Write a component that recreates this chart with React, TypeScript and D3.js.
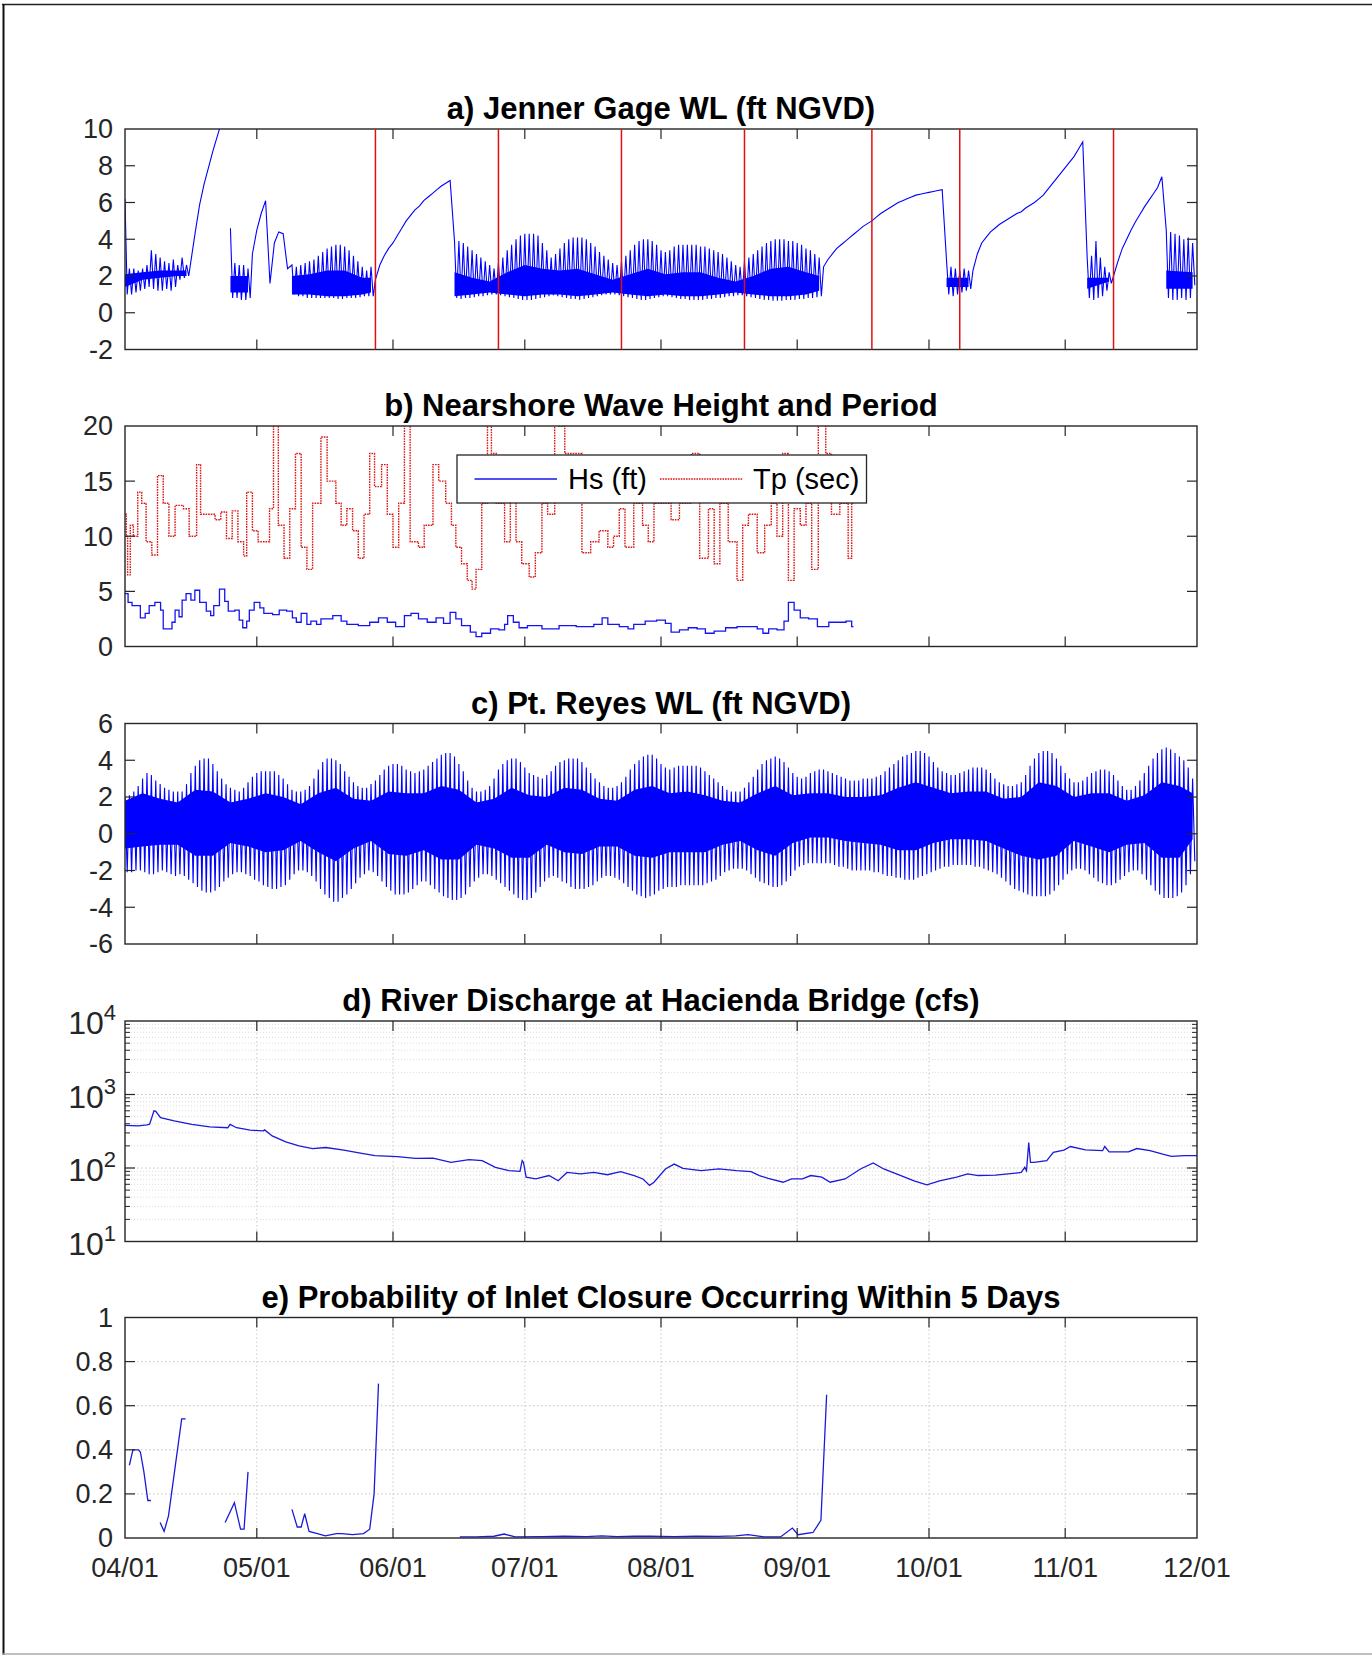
import React, { useEffect, useRef } from "react";
import * as d3 from "d3";

const N = null;

// ---------- time axis ----------
const startMs = Date.UTC(2016, 3, 1);
const endMs = Date.UTC(2016, 11, 1);
const DAY = 86400000;

// ---------- a) Jenner gage water level, daily high / low (ft NGVD), index = day since 04/01 ----------
const jennerHigh: (number | null)[] = [
  // d0-14
  6.2, 2.4, 2.4, 2.3, 2.4, 2.6, 3.4, 3.2, 3.0, 2.8, 2.7, 2.9, 2.6, 3.0, 2.6,
  // d15-23
  2.8, 4.4, 5.9, 7.0, 7.9, 8.8, 9.6, 10.4, N,
  // d24-37
  4.6, 2.7, 2.6, 2.6, 2.4, 3.2, 4.5, 5.4, 6.1, 1.6, 3.8, 4.4, 4.3, 2.4,
  // d38-56
  2.6, 2.5, 2.6, 2.7, 2.8, 2.9, 3.1, 3.3, 3.5, 3.6, 3.7, 3.7, 3.6, 3.4, 3.1, 2.8, 2.5, 2.3, 2.5,
  // d57-74
  1.8, 2.6, 3.1, 3.5, 3.8, 4.2, 4.6, 5.0, 5.3, 5.6, 5.8, 6.1, 6.3, 6.5, 6.7, 6.9, 7.05, 7.2,
  // d75-158
  3.9, 3.9, 3.8, 3.6, 3.4, 3.2, 3.0, 2.8, 2.6, 2.4,
  2.7, 3.0, 3.4, 3.7, 4.0, 4.2, 4.3, 4.3, 4.3, 4.2,
  3.8, 3.4, 3.0, 3.2, 3.5, 3.8, 4.0, 4.1, 4.1, 4.1,
  4.0, 3.8, 3.6, 3.3, 3.1, 2.9, 2.7, 2.6, 2.8, 3.1,
  3.4, 3.7, 3.9, 4.0, 4.0, 3.9, 3.7, 3.4, 3.3, 3.4,
  3.6, 3.7, 3.7, 3.7, 3.7, 3.7, 3.6, 3.6, 3.5, 3.4,
  3.3, 3.2, 3.0, 2.8, 2.6, 2.5, 2.8, 3.0, 3.2, 3.4,
  3.6, 3.8, 3.9, 4.0, 4.0, 4.0, 3.9, 3.9, 3.8, 3.7,
  3.5, 3.4, 3.2, 3.0,
  // d159-186
  2.5, 2.9, 3.2, 3.5, 3.7, 3.9, 4.1, 4.3, 4.5, 4.7,
  4.85, 5.0, 5.2, 5.4, 5.55, 5.7, 5.85, 6.0, 6.1, 6.2,
  6.3, 6.4, 6.45, 6.5, 6.55, 6.6, 6.65, 6.7,
  // d187-192
  2.8, 2.5, 2.4, 2.3, 2.4, 2.3,
  // d193-218
  2.3, 3.2, 3.8, 4.1, 4.4, 4.6, 4.8, 4.95, 5.1, 5.25,
  5.4, 5.5, 5.7, 5.85, 6.0, 6.2, 6.4, 6.7, 7.0, 7.3,
  7.6, 7.9, 8.2, 8.5, 8.9, 9.3,
  // d219-224
  3.0, 3.1, 3.9, 3.0, 2.5, 2.2,
  // d225-236
  2.0, 2.8, 3.5, 4.0, 4.5, 4.95, 5.35, 5.75, 6.1, 6.45, 6.8, 7.4,
  // d237-243
  4.5, 4.4, 4.3, 4.2, 4.0, 4.1, 3.8,
];

const jennerLow: (number | null)[] = [
  // d0-14
  1.0, 1.0, 1.1, 1.2, 1.3, 1.4, 1.3, 1.2, 1.2, 1.3, 1.2, 1.4, 1.8, 1.9, 2.0,
  // d15-23
  N, N, N, N, N, N, N, N, N,
  // d24-37
  0.8, 0.8, 0.7, 0.7, 0.8, N, N, N, N, N, N, N, N, N,
  // d38-56
  1.0, 0.9, 0.9, 0.8, 0.8, 0.8, 0.8, 0.8, 0.8, 0.8, 0.75, 0.75, 0.8, 0.8, 0.8, 0.85, 0.9, 0.9, 0.9,
  // d57-74
  N, N, N, N, N, N, N, N, N, N, N, N, N, N, N, N, N, N,
  // d75-158
  0.8, 0.75, 0.8, 0.8, 0.85, 0.9, 0.9, 0.95, 1.0, 1.0,
  0.95, 0.9, 0.85, 0.8, 0.75, 0.7, 0.7, 0.7, 0.75, 0.8,
  0.85, 0.9, 0.95, 0.9, 0.85, 0.8, 0.75, 0.75, 0.7, 0.75,
  0.8, 0.85, 0.9, 0.95, 1.0, 1.0, 1.0, 0.95, 0.9, 0.85,
  0.8, 0.75, 0.7, 0.7, 0.75, 0.8, 0.85, 0.9, 0.9, 0.85,
  0.8, 0.75, 0.75, 0.7, 0.7, 0.7, 0.7, 0.75, 0.75, 0.8,
  0.8, 0.85, 0.9, 0.9, 0.95, 0.95, 0.9, 0.85, 0.8, 0.75,
  0.7, 0.7, 0.65, 0.65, 0.65, 0.7, 0.7, 0.7, 0.75, 0.75,
  0.8, 0.8, 0.85, 0.9,
  // d159-186
  N, N, N, N, N, N, N, N, N, N,
  N, N, N, N, N, N, N, N, N, N,
  N, N, N, N, N, N, N, N,
  // d187-192
  1.0, 0.9, 1.0, 1.1, 1.2, 1.3,
  // d193-218
  N, N, N, N, N, N, N, N, N, N,
  N, N, N, N, N, N, N, N, N, N,
  N, N, N, N, N, N,
  // d219-224
  0.8, 0.7, 0.8, 0.9, 1.2, 1.6,
  // d225-236
  N, N, N, N, N, N, N, N, N, N, N, N,
  // d237-243
  0.8, 0.7, 0.7, 0.8, 0.7, 0.8, 1.5,
];

// dense tidal core of the Jenner record
const jennerCoreDay: (number | null)[] = [0, 4, 8, 12, 14, N, 24, 28, N, 38, 42, 46, 50, 54, 56, N,
  75, 79, 83, 87, 91, 95, 99, 103, 107, 111, 115, 119, 123, 127, 131, 135, 139, 143, 147, 151, 155, 158, N,
  187, 192, N, 219, 224, N, 237, 243];
const jennerCoreTop: (number | null)[] = [2.1, 2.2, 2.3, 2.3, 2.3, N, 2.0, 2.0, N, 2.0, 2.1, 2.3, 2.3, 1.9, 1.9, N,
  2.2, 1.9, 1.7, 2.2, 2.6, 2.4, 2.3, 2.4, 2.1, 1.8, 2.1, 2.4, 2.1, 2.2, 2.2, 1.9, 1.7, 2.0, 2.4, 2.5, 2.2, 2.0, N,
  1.9, 1.9, N, 1.9, 1.9, N, 2.3, 2.2];
const jennerCoreBottom: (number | null)[] = [1.4, 1.8, 1.9, 2.0, 2.0, N, 1.1, 1.1, N, 1.0, 1.0, 0.9, 0.9, 1.0, 1.1, N,
  0.9, 1.0, 1.1, 1.0, 0.9, 1.0, 1.0, 0.9, 1.0, 1.1, 1.0, 0.9, 1.0, 0.9, 0.9, 1.0, 1.1, 1.0, 0.9, 0.9, 1.0, 1.2, N,
  1.4, 1.4, N, 1.3, 1.7, N, 1.3, 1.3];

const closureLineDays = [57, 85, 113, 141, 170, 190, 225];

// ---------- b) nearshore waves: [day, value] step series ----------
const hsSteps: [number, number][] = [
  [0, 4.8], [0.7, 4.0], [1.6, 3.7], [3.5, 2.6], [4.6, 3.0], [5.5, 3.7], [6.8, 4.0], [8.1, 3.3], [8.7, 1.6], [10.7, 2.2],
  [11.4, 3.3], [12.3, 2.7], [13, 4.2], [13.9, 4.8], [15, 4.2], [15.9, 5.1], [17, 4.0], [18.5, 3.2], [19.5, 2.8], [20.2, 3.7],
  [21.5, 5.2], [22.7, 4.1], [23.5, 3.2], [25, 3.3], [26, 2.4], [26.8, 1.7], [27.7, 2.3], [28.3, 3.3], [29.4, 4.0], [30.7, 3.5],
  [31.6, 3.0], [33.6, 2.9], [35.1, 3.3], [36.8, 3.2], [38.1, 2.6], [39, 2.2], [40.1, 3.0], [41.4, 2.0], [42.3, 2.3], [43.6, 2.0],
  [44.6, 2.5], [47.3, 2.8], [49.2, 2.3], [50.5, 2.0], [53.1, 1.9], [55.7, 2.2], [57.7, 2.6], [59.7, 2.2], [61.6, 1.8], [63.6, 2.8],
  [65.1, 3.0], [66.8, 2.5], [68.8, 2.2], [70.8, 2.6], [72.5, 2.1], [74, 3.1], [75.3, 2.5], [76.6, 1.9], [78.6, 1.3], [79.9, 0.9],
  [81.2, 1.2], [83.2, 1.6], [85.1, 1.5], [86.4, 2.0], [87.1, 2.8], [88.4, 2.2], [89.7, 1.7], [91.6, 1.9], [94.9, 1.6], [98.8, 1.9],
  [102.7, 1.8], [106.7, 2.0], [108.6, 2.6], [109.9, 2.0], [112.5, 1.8], [114.5, 1.6], [115.8, 2.0], [118.4, 2.3], [121, 2.4], [123, 2.1],
  [124.3, 1.3], [126.2, 1.5], [128.2, 1.7], [130.2, 1.6], [132.1, 1.2], [134.1, 1.4], [136.7, 1.7], [139.3, 1.8], [141.9, 1.8], [143.9, 1.6],
  [145.2, 1.2], [146.5, 1.6], [148.4, 1.5], [150, 2.3], [151, 4.0], [152.3, 3.3], [153.7, 2.6], [155.6, 2.5], [157.6, 1.8], [160.2, 2.2],
  [164.1, 2.3], [165.4, 1.8], [165.8, 1.8],
];

const tpSteps: [number, number][] = [
  [0, 12], [0.3, 10], [0.6, 6.5], [1.2, 11], [1.9, 10], [2.9, 14], [3.8, 13], [4.8, 9.5], [6.1, 8.3], [7.4, 15.5],
  [8.7, 13], [10, 10], [11.4, 12.8], [13.3, 12.5], [14.6, 10], [16.3, 16.5], [17.2, 12], [20.5, 11.5], [21.8, 12.2], [23.1, 9.8],
  [24.4, 12.3], [25.7, 9.5], [27, 8.2], [27.7, 14], [29, 10.5], [30.3, 9.5], [32.9, 12.5], [33.8, 21], [34.9, 11], [36.2, 8],
  [37.5, 12.5], [38.8, 17.5], [40.1, 9], [41.4, 7], [42.7, 13], [44.6, 19], [46, 15], [48, 13], [49.2, 11], [50.5, 12.5],
  [51.8, 10.5], [53.1, 8], [54.4, 12], [55.7, 17.5], [56.8, 14.5], [58.4, 16.5], [59.7, 12], [61, 9], [62.3, 13], [63.6, 21],
  [64.9, 9.5], [66.8, 9], [68.1, 11], [70.1, 16.5], [71.4, 15], [73, 13], [74.3, 11], [75.3, 9], [76.6, 7.5], [77.9, 6],
  [79, 5.2], [79.9, 7], [81.2, 13], [82.5, 21], [83.4, 17.5], [84.5, 13], [86.4, 9.5], [87.7, 14], [89, 9.5], [90.3, 7.5],
  [92, 6.3], [93.4, 8.5], [94.9, 13], [96.2, 12], [97.8, 21], [98.8, 20], [100.1, 17.5], [104, 8.5], [106, 9.5], [107.9, 10.5],
  [109.9, 9], [111.2, 10], [112.5, 12.5], [113.8, 9], [115.8, 13], [117.8, 11], [119.1, 9.5], [120.4, 13], [124.3, 11.5], [126.2, 13],
  [128.9, 17.5], [130.8, 8], [132.8, 12.5], [134.1, 7.5], [135.4, 13], [137.3, 9.5], [139.3, 6], [140.6, 11], [141.9, 12], [143.9, 8.5],
  [145.6, 11], [147.1, 13], [148.4, 10], [149.7, 17.5], [151, 6], [152.3, 12.5], [153.7, 11], [155, 13], [156.3, 7], [157.8, 21],
  [159.5, 17.5], [160.8, 12], [162.7, 13], [164.6, 8], [165.4, 13], [165.8, 13],
];

// ---------- c) Pt. Reyes water level, daily higher-high / lower-low (ft NGVD) ----------
const reyesHigh: number[] = [
  2.0, 2.1, 2.3, 2.6, 3.0, 3.3, 3.2, 2.9, 2.7, 2.5,
  2.4, 2.3, 2.3, 2.3, 2.7, 3.3, 3.7, 4.0, 4.1, 4.1,
  3.8, 3.4, 3.0, 2.7, 2.5, 2.4, 2.3, 2.5, 2.8, 3.1,
  3.3, 3.4, 3.4, 3.4, 3.4, 3.2, 3.0, 2.7, 2.4, 2.3,
  2.3, 2.4, 2.6, 3.0, 3.5, 3.9, 4.1, 4.1, 4.0, 3.8,
  3.4, 3.1, 2.8, 2.6, 2.5, 2.5, 2.7, 2.9, 3.2, 3.5,
  3.7, 3.8, 3.8, 3.7, 3.5, 3.4, 3.3, 3.4, 3.5, 3.7,
  3.9, 4.1, 4.3, 4.4, 4.4, 4.2, 3.8, 3.4, 2.9, 2.5,
  2.3, 2.3, 2.4, 2.6, 3.0, 3.5, 3.8, 4.0, 4.1, 4.1,
  3.9, 3.6, 3.3, 3.2, 3.1, 3.0, 3.2, 3.4, 3.7, 3.9,
  4.0, 4.1, 4.1, 4.1, 3.9, 3.6, 3.3, 3.0, 2.8, 2.6,
  2.5, 2.5, 2.6, 2.8, 3.1, 3.5, 3.8, 4.0, 4.2, 4.3,
  4.3, 4.1, 3.8, 3.6, 3.5, 3.6, 3.7, 3.7, 3.7, 3.7,
  3.7, 3.6, 3.4, 3.2, 3.0, 2.8, 2.6, 2.4, 2.3, 2.3,
  2.3, 2.5, 2.8, 3.1, 3.5, 3.8, 4.0, 4.1, 4.2, 4.1,
  3.9, 3.6, 3.3, 3.1, 3.0, 3.1, 3.3, 3.4, 3.5, 3.5,
  3.4, 3.3, 3.2, 3.1, 3.0, 2.9, 2.9, 2.9, 3.0, 3.0,
  3.0, 3.1, 3.2, 3.4, 3.6, 3.8, 4.0, 4.2, 4.3, 4.4,
  4.5, 4.5, 4.4, 4.2, 3.9, 3.6, 3.4, 3.3, 3.2, 3.2,
  3.3, 3.4, 3.5, 3.6, 3.6, 3.6, 3.5, 3.3, 3.0, 2.8,
  2.7, 2.6, 2.6, 2.7, 2.8, 3.2, 3.7, 4.1, 4.4, 4.5,
  4.5, 4.4, 4.1, 3.7, 3.3, 3.0, 2.8, 2.8, 2.9, 3.1,
  3.3, 3.4, 3.5, 3.5, 3.4, 3.2, 2.9, 2.6, 2.4, 2.4,
  2.6, 2.9, 3.3, 3.7, 4.1, 4.4, 4.6, 4.7, 4.6, 4.4,
  4.2, 4.0, 3.6, 3.0,
];

const reyesLow: number[] = [
  -2.1, -2.1, -2.0, -2.0, -2.1, -2.2, -2.2, -2.1, -2.0, -2.1,
  -2.2, -2.3, -2.2, -2.3, -2.5, -2.7, -2.9, -3.1, -3.2, -3.2,
  -3.1, -2.9, -2.6, -2.4, -2.2, -2.1, -2.1, -2.2, -2.3, -2.5,
  -2.6, -2.8, -2.9, -3.0, -3.0, -2.9, -2.8, -2.5, -2.2, -2.0,
  -2.0, -2.1, -2.3, -2.6, -3.0, -3.3, -3.5, -3.7, -3.7, -3.5,
  -3.3, -3.0, -2.7, -2.4, -2.2, -2.0, -2.1, -2.3, -2.6, -2.9,
  -3.1, -3.3, -3.3, -3.3, -3.2, -3.0, -2.8, -2.6, -2.6, -2.8,
  -3.0, -3.2, -3.4, -3.5, -3.6, -3.6, -3.5, -3.3, -2.9, -2.6,
  -2.4, -2.2, -2.2, -2.3, -2.5, -2.7, -2.9, -3.1, -3.3, -3.5,
  -3.6, -3.6, -3.5, -3.2, -2.9, -2.6, -2.4, -2.3, -2.4, -2.6,
  -2.7, -2.9, -3.0, -3.0, -3.0, -2.9, -2.8, -2.6, -2.4, -2.3,
  -2.3, -2.4, -2.5, -2.7, -2.9, -3.1, -3.3, -3.4, -3.5, -3.4,
  -3.3, -3.1, -3.0, -2.9, -2.9, -2.9, -2.8, -2.8, -2.8, -2.8,
  -2.8, -2.8, -2.7, -2.6, -2.5, -2.3, -2.1, -2.0, -1.9, -1.9,
  -1.9, -2.0, -2.2, -2.4, -2.6, -2.7, -2.8, -2.9, -2.9, -2.8,
  -2.6, -2.3, -2.0, -1.8, -1.7, -1.6, -1.6, -1.6, -1.6, -1.6,
  -1.6, -1.7, -1.8, -1.8, -1.9, -2.0, -2.0, -2.0, -2.0, -2.0,
  -2.1, -2.1, -2.2, -2.3, -2.3, -2.4, -2.4, -2.5, -2.5, -2.5,
  -2.4, -2.3, -2.2, -2.1, -2.0, -1.9, -1.8, -1.8, -1.7, -1.7,
  -1.7, -1.7, -1.7, -1.8, -1.8, -1.9, -2.0, -2.1, -2.2, -2.4,
  -2.6, -2.8, -3.0, -3.1, -3.2, -3.3, -3.4, -3.4, -3.4, -3.4,
  -3.3, -3.1, -2.8, -2.5, -2.2, -2.0, -1.9, -1.9, -2.0, -2.2,
  -2.4, -2.6, -2.7, -2.8, -2.8, -2.7, -2.5, -2.3, -2.1, -2.0,
  -2.0, -2.2, -2.5, -2.8, -3.1, -3.3, -3.5, -3.5, -3.5, -3.4,
  -3.2, -2.8, -2.2, -1.5,
];

const reyesCoreDay: number[] = [0, 4, 8, 12, 16, 20, 24, 28, 32, 36, 40, 44, 48, 52, 56, 60, 64, 68, 72, 76,
  80, 84, 88, 92, 96, 100, 104, 108, 112, 116, 120, 124, 128, 132, 136, 140, 144, 148, 152, 156,
  160, 164, 168, 172, 176, 180, 184, 188, 192, 196, 200, 204, 208, 212, 216, 220, 224, 228, 232, 236, 240, 243];
const reyesCoreTop: number[] = [1.8, 2.2, 1.9, 1.7, 2.4, 2.3, 1.7, 1.9, 2.2, 2.0, 1.6, 2.2, 2.5, 1.9, 1.8, 2.3, 2.2, 2.2, 2.6, 2.4,
  1.7, 1.9, 2.5, 2.1, 2.0, 2.5, 2.4, 1.9, 1.8, 2.4, 2.6, 2.2, 2.3, 2.1, 1.8, 1.7, 2.2, 2.6, 2.1, 2.2,
  2.2, 2.0, 2.0, 2.1, 2.5, 2.8, 2.5, 2.2, 2.3, 2.3, 1.9, 2.0, 2.8, 2.6, 2.0, 2.2, 2.2, 1.8, 2.1, 2.8, 2.6, 2.2];
const reyesCoreBottom: number[] = [-0.8, -0.7, -0.6, -0.6, -1.2, -1.2, -0.5, -0.7, -1.0, -0.9, -0.4, -1.0, -1.5, -0.8, -0.4, -1.1, -1.2, -0.9, -1.4, -1.4,
  -0.6, -0.8, -1.3, -1.3, -0.6, -1.0, -1.1, -0.7, -0.7, -1.2, -1.3, -1.0, -1.0, -1.0, -0.6, -0.4, -0.9, -1.2, -0.5, -0.2,
  -0.2, -0.4, -0.5, -0.6, -0.9, -0.9, -0.5, -0.3, -0.3, -0.4, -0.8, -1.2, -1.4, -1.2, -0.4, -0.7, -1.0, -0.6, -0.5, -1.3, -1.3, -0.3];

// ---------- d) river discharge [day, cfs] ----------
const discharge: [number, number][] = [
  [0, 380], [3, 375], [5, 385], [5.6, 395], [6.6, 600], [7, 590], [8.1, 483], [11.2, 437], [15.2, 393], [19.3, 362],
  [23.4, 353], [23.9, 393], [25.4, 353], [28.5, 327], [31.5, 320], [31.8, 330], [33.5, 273], [36.6, 227], [39.6, 200], [42.7, 184],
  [45.7, 190], [49.8, 175], [53.9, 158], [56.9, 147], [62, 143], [66.1, 135], [70.1, 136], [74.2, 119], [78.3, 130], [81.3, 126],
  [84.3, 102], [87.4, 92], [89.9, 90], [90.4, 126], [90.7, 119], [91.3, 75], [93.5, 71], [96.5, 79], [98.6, 67], [100.6, 87],
  [103.7, 83], [106.7, 87], [109.8, 81], [112.8, 89], [115.9, 79], [117.9, 71], [119.4, 58], [120.4, 64], [123, 97], [125, 113],
  [127, 99], [131.1, 92], [135.2, 97], [139.2, 92], [142.5, 89], [144.4, 79], [146.4, 72], [149.8, 64], [151.7, 71], [154.2, 71],
  [156.1, 79], [158.6, 75], [160.5, 64], [163.9, 71], [167.4, 97], [170.3, 117], [172.7, 97], [176.6, 79], [179.6, 67], [182.5, 59],
  [185.4, 67], [189.3, 75], [191.8, 83], [194.2, 79], [198.1, 80], [201, 83], [204, 87], [204.8, 102], [205.2, 92], [205.7, 222],
  [206.1, 119], [206.9, 119], [209.8, 126], [211.3, 163], [213.7, 175], [215.2, 196], [218.6, 177], [222.5, 172], [223, 196], [224, 166],
  [228.4, 166], [230.3, 184], [233.3, 172], [236.2, 154], [238.2, 144], [241.1, 147], [244, 147],
];

// ---------- e) closure probability [day, p]; null breaks the record ----------
const closureProb: ([number, number] | null)[] = [
  [1, 0.33], [1.8, 0.40], [3.1, 0.40], [3.5, 0.39], [4.3, 0.30], [5.2, 0.17], [5.9, 0.17], N,
  [8, 0.07], [8.9, 0.03], [9.9, 0.10], [12.9, 0.54], [13.8, 0.54], N,
  [22.8, 0.07], [24.9, 0.16], [26.3, 0.04], [27.1, 0.04], [28, 0.30], N,
  [38, 0.13], [39.2, 0.05], [40.1, 0.05], [40.9, 0.11], [41.9, 0.03], [43.8, 0.02], [45.6, 0.01], [48.1, 0.02], [49.3, 0.02],
  [51.8, 0.015], [54.3, 0.02], [55.7, 0.04], [56.7, 0.2], [57.7, 0.70], N,
  [76.2, 0.005], [80, 0.005], [84, 0.008], [86.3, 0.018], [88.8, 0.005], [95, 0.006], [100, 0.008], [105, 0.006], [108.5, 0.01],
  [112, 0.006], [116, 0.008], [119.6, 0.008], [125, 0.006], [130, 0.008], [135, 0.007], [139, 0.01], [141.8, 0.015], [145.5, 0.005],
  [149.2, 0.005], [151.9, 0.045], [153.2, 0.015], [156.6, 0.025], [158.4, 0.08], [159.7, 0.65],
];

// ---------- titles & ticks ----------
const panelTitles = [
  "a) Jenner Gage WL (ft NGVD)",
  "b) Nearshore Wave Height and Period",
  "c) Pt. Reyes WL (ft NGVD)",
  "d) River Discharge at Hacienda Bridge (cfs)",
  "e) Probability of Inlet Closure Occurring Within 5 Days",
];
const ticksA = [-2, 0, 2, 4, 6, 8, 10];
const ticksB = [0, 5, 10, 15, 20];
const ticksC = [-6, -4, -2, 0, 2, 4, 6];
const ticksD = [10, 100, 1000, 10000];
const ticksE = [0, 0.2, 0.4, 0.6, 0.8, 1];
const legendLabels = ["Hs (ft)", "Tp (sec)"];

// ---------- layout ----------
const W = 1372, H = 1655;
const L = 125, R = 1197;
const TOPS = [129, 426, 723.5, 1021, 1317.5];
const PH = 220.5;
const AX = "#262626";
const FONT = "'Liberation Sans', Arial, Helvetica, sans-serif";
const BLUE = "#0000ff";
const TPRED = "#dd1515";

function draw(svgEl: SVGSVGElement) {
  const svg = d3.select(svgEl);
  svg.selectAll("*").remove();
  svg.append("rect").attr("width", W).attr("height", H).attr("fill", "#fff");
  const defs = svg.append("defs");

  // page frame
  svg.append("line").attr("x1", 2).attr("x2", W).attr("y1", 4.5).attr("y2", 4.5).attr("stroke", "#222").attr("stroke-width", 1.6);
  svg.append("line").attr("x1", 3.5).attr("x2", 3.5).attr("y1", 4).attr("y2", H).attr("stroke", "#111").attr("stroke-width", 2);
  svg.append("line").attr("x1", 2).attr("x2", W).attr("y1", 1654).attr("y2", 1654).attr("stroke", "#aaa").attr("stroke-width", 1.5);

  const t0 = new Date(startMs), t1 = new Date(endMs);
  const x = d3.scaleUtc().domain([t0, t1]).range([L, R]);
  const xd = (d: number) => x(new Date(startMs + d * DAY));
  const months = d3.utcMonth.range(t0, new Date(endMs + 1));
  const fmt = d3.utcFormat("%m/%d");

  function panel(i: number, y: any, ticks: number[], labelFn: (g: any, v: number, yy: number) => void,
    opts: { minor?: number[]; gridMajor?: number[]; gridMinor?: number[]; vgrid?: boolean } = {}) {
    const top = TOPS[i], bottom = top + PH;
    const g = svg.append("g");
    defs.append("clipPath").attr("id", "clip" + i).append("rect").attr("x", L).attr("y", top).attr("width", R - L).attr("height", PH);
    const grid = g.append("g");
    if (opts.vgrid) {
      months.slice(1, -1).forEach((m) => {
        grid.append("line").attr("x1", x(m)).attr("x2", x(m)).attr("y1", top).attr("y2", bottom)
          .attr("stroke", "#c8c8c8").attr("stroke-width", 1).attr("stroke-dasharray", "1.5,2.5");
      });
    }
    (opts.gridMinor || []).forEach((v) => {
      grid.append("line").attr("x1", L).attr("x2", R).attr("y1", y(v)).attr("y2", y(v))
        .attr("stroke", "#dcdcdc").attr("stroke-width", 1).attr("stroke-dasharray", "1,2");
    });
    (opts.gridMajor || []).forEach((v) => {
      grid.append("line").attr("x1", L).attr("x2", R).attr("y1", y(v)).attr("y2", y(v))
        .attr("stroke", "#c4c4c4").attr("stroke-width", 1).attr("stroke-dasharray", "1.5,2.5");
    });
    const data = g.append("g").attr("clip-path", `url(#clip${i})`);
    const ax = g.append("g");
    months.slice(1, -1).forEach((m) => {
      const xx = x(m);
      ax.append("line").attr("x1", xx).attr("x2", xx).attr("y1", bottom).attr("y2", bottom - 10).attr("stroke", AX).attr("stroke-width", 1.2);
      ax.append("line").attr("x1", xx).attr("x2", xx).attr("y1", top).attr("y2", top + 10).attr("stroke", AX).attr("stroke-width", 1.2);
    });
    ticks.forEach((v) => {
      const yy = y(v);
      if (Math.abs(yy - top) > 1 && Math.abs(yy - bottom) > 1) {
        ax.append("line").attr("x1", L).attr("x2", L + 10).attr("y1", yy).attr("y2", yy).attr("stroke", AX).attr("stroke-width", 1.2);
        ax.append("line").attr("x1", R).attr("x2", R - 10).attr("y1", yy).attr("y2", yy).attr("stroke", AX).attr("stroke-width", 1.2);
      }
      labelFn(ax, v, yy);
    });
    (opts.minor || []).forEach((v) => {
      const yy = y(v);
      ax.append("line").attr("x1", L).attr("x2", L + 5).attr("y1", yy).attr("y2", yy).attr("stroke", AX).attr("stroke-width", 1);
      ax.append("line").attr("x1", R).attr("x2", R - 5).attr("y1", yy).attr("y2", yy).attr("stroke", AX).attr("stroke-width", 1);
    });
    ax.append("rect").attr("x", L).attr("y", top).attr("width", R - L).attr("height", PH)
      .attr("fill", "none").attr("stroke", AX).attr("stroke-width", 1.4);
    ax.append("text").attr("x", (L + R) / 2).attr("y", top - 10).attr("text-anchor", "middle")
      .attr("font-family", FONT).attr("font-weight", "bold").attr("font-size", 31).attr("fill", "#000")
      .text(panelTitles[i]);
    return { data, ax, top, bottom };
  }

  const plainLabel = (g: any, v: number, yy: number) => {
    g.append("text").attr("x", L - 12).attr("y", yy).attr("dy", "0.35em").attr("text-anchor", "end")
      .attr("font-family", FONT).attr("font-size", 27).attr("fill", AX).text(String(v));
  };

  // ---- a ----
  const ya = d3.scaleLinear().domain([-2, 10]).range([TOPS[0] + PH, TOPS[0]]);
  const pa = panel(0, ya, ticksA, plainLabel);
  const coreA = d3.area<number>()
    .defined((k) => jennerCoreDay[k] != null)
    .x((k) => xd(jennerCoreDay[k] as number))
    .y0((k) => ya(jennerCoreBottom[k] as number))
    .y1((k) => ya(jennerCoreTop[k] as number));
  pa.data.append("path").attr("d", coreA(d3.range(jennerCoreDay.length))).attr("fill", BLUE);
  const ptsA: [number, number | null][] = [];
  jennerHigh.forEach((h, k) => {
    ptsA.push([k, h]);
    const lo = jennerLow[k];
    if (h != null && lo != null) ptsA.push([k + 0.5, lo]);
  });
  const lineA = d3.line<[number, number | null]>().defined((p) => p[1] != null).x((p) => xd(p[0])).y((p) => ya(p[1] as number));
  pa.data.append("path").attr("d", lineA(ptsA)).attr("fill", "none").attr("stroke", BLUE).attr("stroke-width", 1.1);
  closureLineDays.forEach((d) => {
    pa.ax.append("line").attr("x1", xd(d)).attr("x2", xd(d)).attr("y1", pa.top).attr("y2", pa.bottom)
      .attr("stroke", "#e01010").attr("stroke-width", 1.5);
  });

  // ---- b ----
  const yb = d3.scaleLinear().domain([0, 20]).range([TOPS[1] + PH, TOPS[1]]);
  const pb = panel(1, yb, ticksB, plainLabel);
  const stepLine = d3.line<[number, number]>().curve(d3.curveStepAfter).x((p) => xd(p[0])).y((p) => yb(p[1]));
  pb.data.append("path").attr("d", stepLine(tpSteps)).attr("fill", "none").attr("stroke", TPRED)
    .attr("stroke-width", 1.4).attr("stroke-dasharray", "1.6,1");
  pb.data.append("path").attr("d", stepLine(hsSteps)).attr("fill", "none").attr("stroke", "#1414f0").attr("stroke-width", 1.3);
  const lg = pb.ax.append("g");
  lg.append("rect").attr("x", 457).attr("y", 455).attr("width", 409.5).attr("height", 48)
    .attr("fill", "#fff").attr("stroke", AX).attr("stroke-width", 1.3);
  lg.append("line").attr("x1", 474.5).attr("x2", 557).attr("y1", 479).attr("y2", 479).attr("stroke", "#1414f0").attr("stroke-width", 1.4);
  lg.append("text").attr("x", 568).attr("y", 479).attr("dy", "0.35em").attr("font-family", FONT).attr("font-size", 29).attr("fill", "#000").text(legendLabels[0]);
  lg.append("line").attr("x1", 660).attr("x2", 743).attr("y1", 479).attr("y2", 479).attr("stroke", TPRED)
    .attr("stroke-width", 1.4).attr("stroke-dasharray", "1.6,1");
  lg.append("text").attr("x", 753).attr("y", 479).attr("dy", "0.35em").attr("font-family", FONT).attr("font-size", 29).attr("fill", "#000").text(legendLabels[1]);

  // ---- c ----
  const yc = d3.scaleLinear().domain([-6, 6]).range([TOPS[2] + PH, TOPS[2]]);
  const pc = panel(2, yc, ticksC, plainLabel);
  const coreC = d3.area<number>()
    .x((k) => xd(reyesCoreDay[k]))
    .y0((k) => yc(reyesCoreBottom[k]))
    .y1((k) => yc(reyesCoreTop[k]));
  pc.data.append("path").attr("d", coreC(d3.range(reyesCoreDay.length))).attr("fill", BLUE);
  const ptsC: [number, number][] = [];
  reyesHigh.forEach((h, k) => {
    ptsC.push([k, h]);
    ptsC.push([k + 0.5, reyesLow[k]]);
  });
  const lineC = d3.line<[number, number]>().x((p) => xd(p[0])).y((p) => yc(p[1]));
  pc.data.append("path").attr("d", lineC(ptsC)).attr("fill", "none").attr("stroke", BLUE).attr("stroke-width", 1.1);

  // ---- d ----
  const yd = d3.scaleLog().domain([10, 10000]).range([TOPS[3] + PH, TOPS[3]]);
  const minorD: number[] = [];
  [10, 100, 1000].forEach((dec) => [2, 3, 4, 5, 6, 7, 8, 9].forEach((m) => minorD.push(dec * m)));
  const supLabel = (g: any, v: number, yy: number) => {
    const t = g.append("text").attr("x", L - 9).attr("y", yy + 2).attr("dy", "0.35em").attr("text-anchor", "end")
      .attr("font-family", FONT).attr("font-size", 32).attr("fill", AX);
    t.append("tspan").text("10");
    t.append("tspan").attr("dy", -14).attr("font-size", 22).text(String(Math.round(Math.log10(v))));
  };
  const pd = panel(3, yd, ticksD, supLabel, { minor: minorD, gridMajor: [100, 1000], gridMinor: minorD, vgrid: true });
  const lineD = d3.line<[number, number]>().x((p) => xd(p[0])).y((p) => yd(p[1]));
  pd.data.append("path").attr("d", lineD(discharge)).attr("fill", "none").attr("stroke", "#1a1ad8").attr("stroke-width", 1.3);

  // ---- e ----
  const ye = d3.scaleLinear().domain([0, 1]).range([TOPS[4] + PH, TOPS[4]]);
  const pe = panel(4, ye, ticksE, plainLabel, { gridMajor: [0.2, 0.4, 0.6, 0.8], vgrid: true });
  const lineE = d3.line<[number, number] | null>().defined((p) => p != null)
    .x((p) => xd((p as [number, number])[0])).y((p) => ye((p as [number, number])[1]));
  pe.data.append("path").attr("d", lineE(closureProb)).attr("fill", "none").attr("stroke", "#1a1ad8").attr("stroke-width", 1.3);
  months.forEach((m) => {
    pe.ax.append("text").attr("x", x(m)).attr("y", pe.bottom + 38.5).attr("text-anchor", "middle")
      .attr("font-family", FONT).attr("font-size", 27).attr("fill", AX).text(fmt(m));
  });
}

export default function App() {
  const ref = useRef<SVGSVGElement>(null);
  useEffect(() => {
    if (ref.current) draw(ref.current);
  }, []);
  return (
    <svg ref={ref} width={W} height={H} viewBox={`0 0 ${W} ${H}`}
      style={{ position: "absolute", left: 0, top: 0, display: "block", background: "#fff" }} />
  );
}
